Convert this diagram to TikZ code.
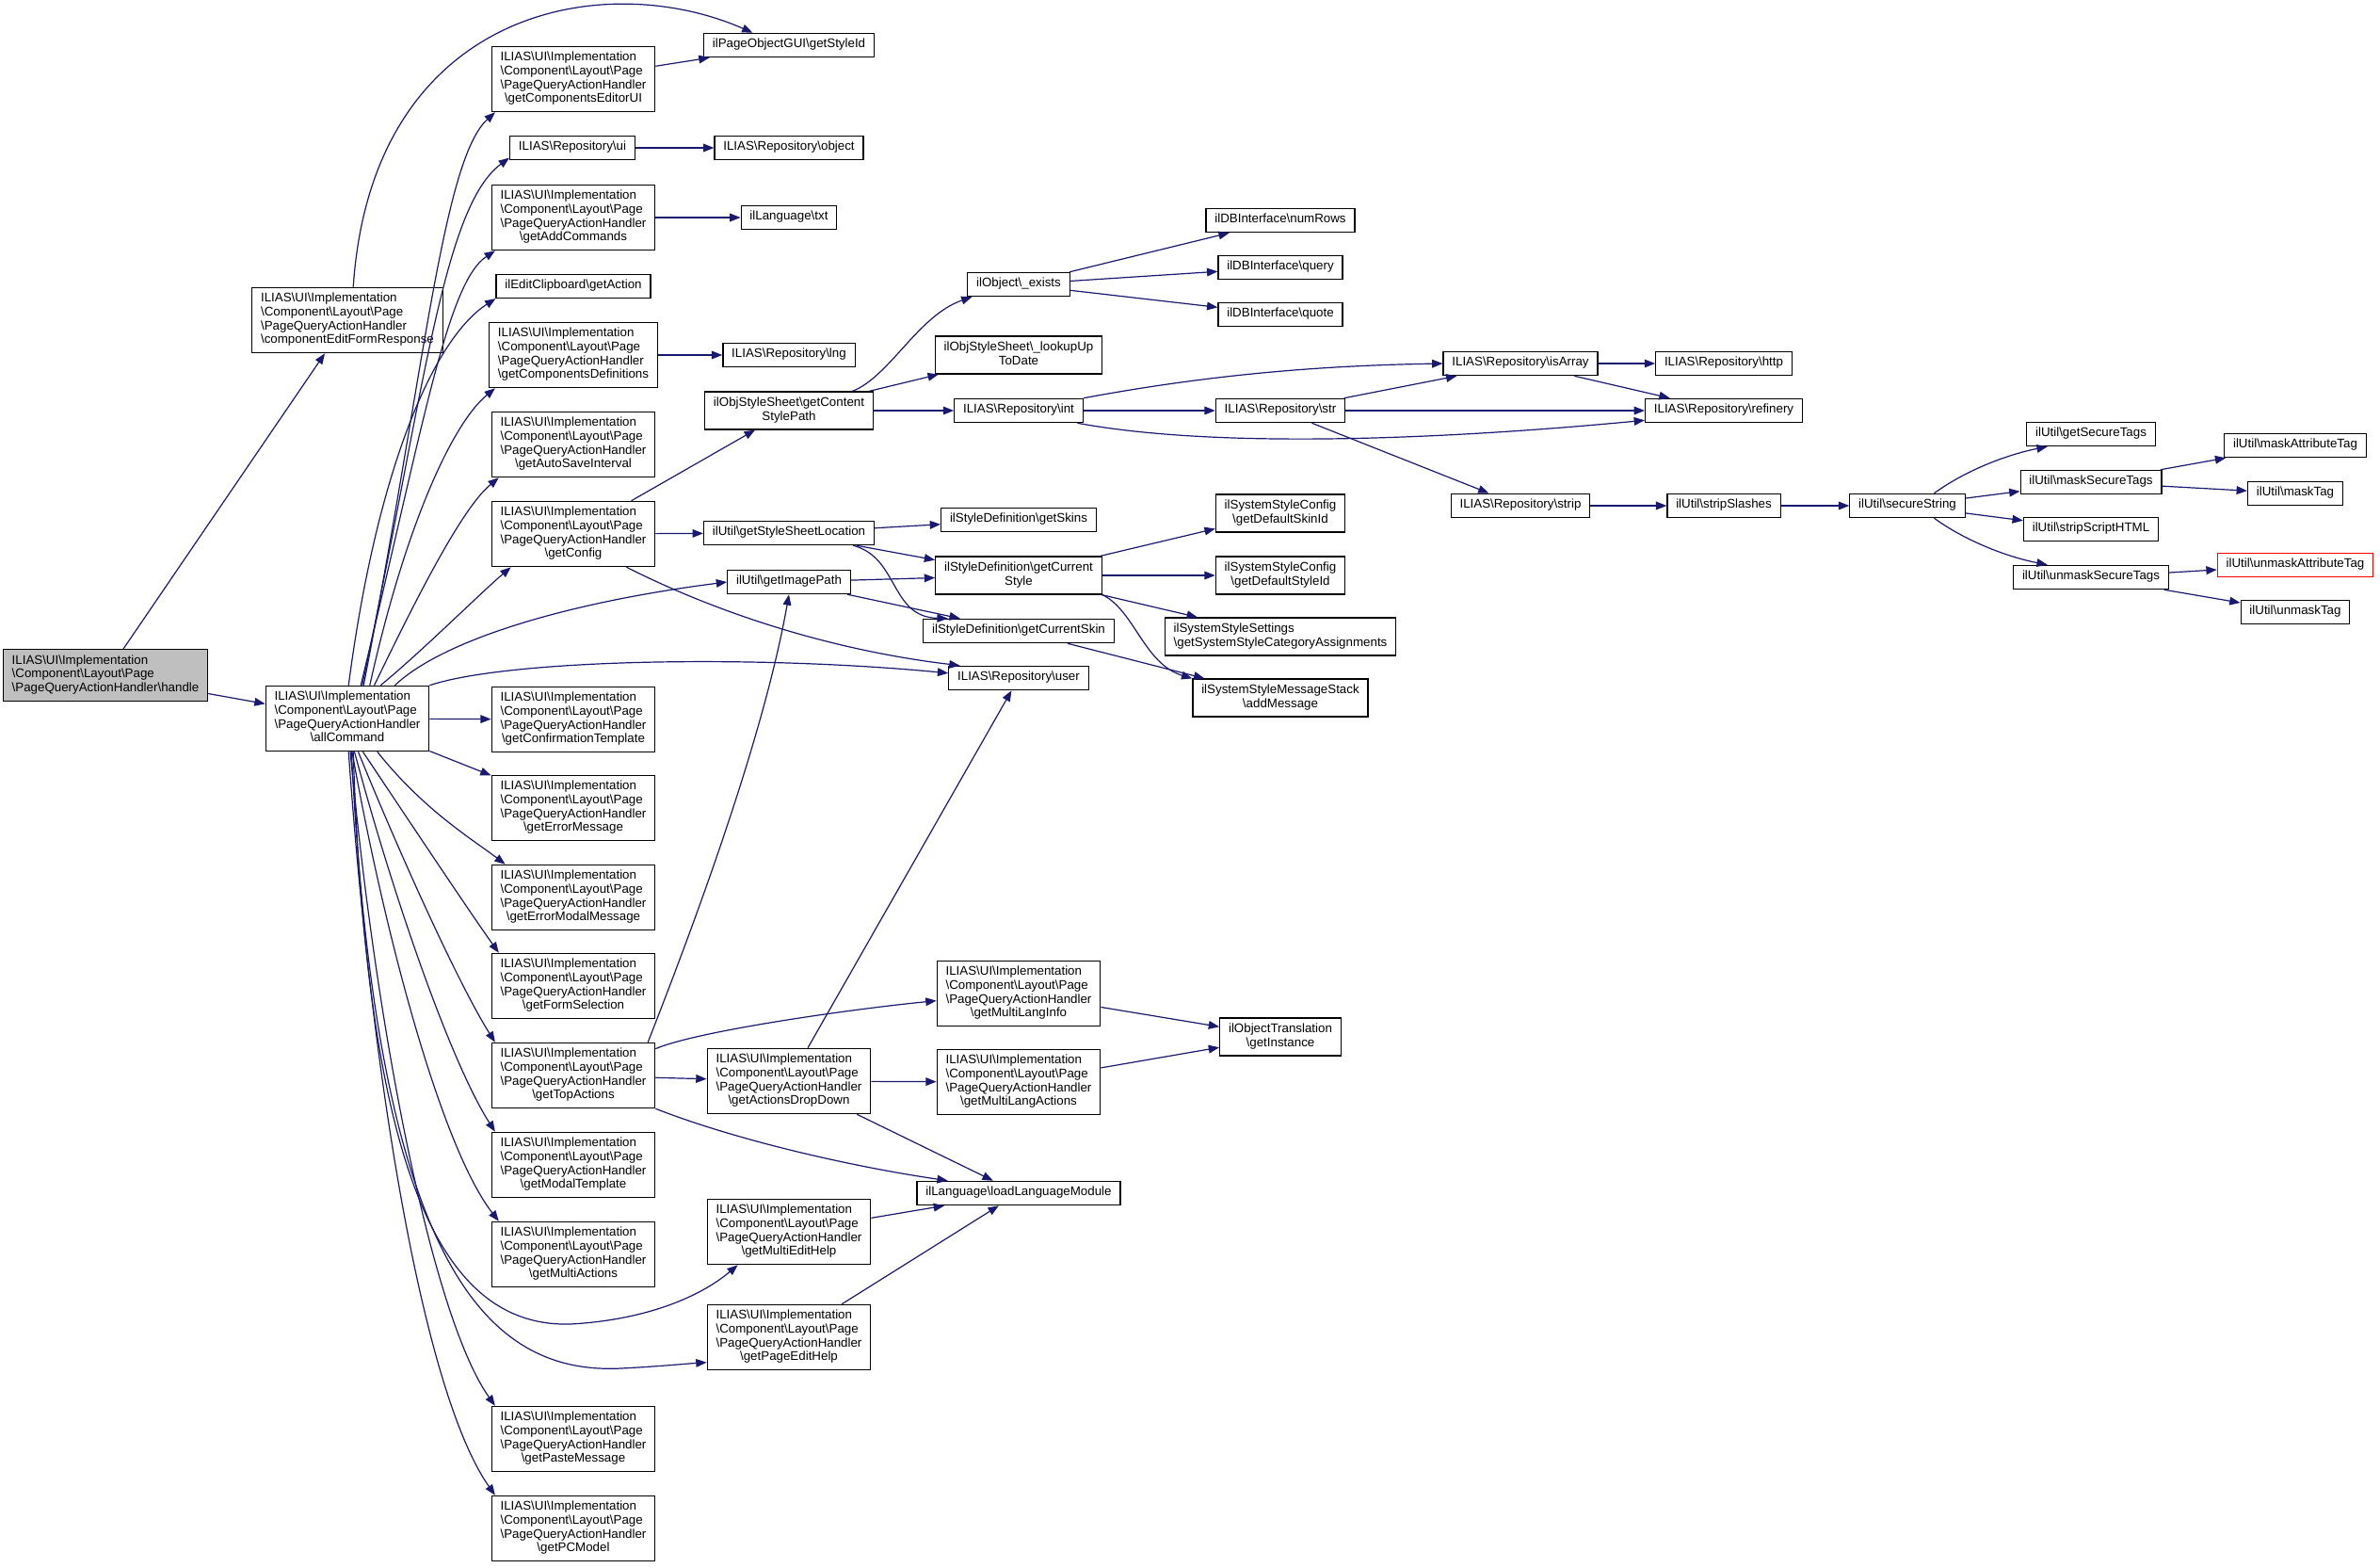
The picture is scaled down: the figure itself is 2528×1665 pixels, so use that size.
\documentclass[tikz,border=0pt]{standalone}
\usepackage{fontspec}
\setmainfont{Liberation Sans}
\usetikzlibrary{arrows.meta}
\definecolor{edgeblue}{HTML}{191970}
\definecolor{rootgray}{HTML}{BFBFBF}
\newcommand{\bsl}{\textbackslash}
\newcommand{\qah}[1]{\begin{tabular}{@{}l@{}}ILIAS\bsl UI\bsl Implementation\\\bsl Component\bsl Layout\bsl Page\\\bsl PageQueryActionHandler\\\multicolumn{1}{@{}c@{}}{\bsl #1}\end{tabular}}
\newcommand{\twol}[2]{\begin{tabular}{@{}l@{}}#1\\\multicolumn{1}{@{}c@{}}{#2}\end{tabular}}

\begin{document}
\begin{tikzpicture}[x=0.75pt, y=-0.75pt,
    fn/.style={draw, line width=0.9pt, fill=white, inner xsep=7pt, inner ysep=4pt, font=\fontsize{10}{11}\selectfont},
    one/.style={fn, text height=7.7pt, text depth=3.3pt},
    call/.style={draw=edgeblue, line width=0.9pt, -{Triangle[length=8.5pt,width=6.5pt]}}]
      \useasboundingbox[fill=white] (0,0) rectangle (2528,1665);
      % first two columns
      \node[fn, name=handle, fill=rootgray] at (112,717) {\begin{tabular}{@{}l@{}}ILIAS\bsl UI\bsl Implementation\\\bsl Component\bsl Layout\bsl Page\\\bsl PageQueryActionHandler\bsl handle\end{tabular}};
      \node[fn, name=cefr] at (369,340) {\qah{componentEditFormResponse}};
      \node[fn, name=allcmd] at (369,763) {\qah{allCommand}};
      % callees of allCommand
      \node[fn, name=ceui] at (609,84) {\qah{getComponentsEditorUI}};
      \node[one, name=rui] at (608,157) {ILIAS\bsl Repository\bsl ui};
      \node[fn, name=addcmd] at (609,231) {\qah{getAddCommands}};
      \node[one, name=getact] at (609,304) {ilEditClipboard\bsl getAction};
      \node[fn, name=compdef] at (609,377) {\qah{getComponentsDefinitions}};
      \node[fn, name=autosave] at (609,472) {\qah{getAutoSaveInterval}};
      \node[fn, name=config] at (609,567) {\qah{getConfig}};
      \node[fn, name=confirm] at (609,764) {\qah{getConfirmationTemplate}};
      \node[fn, name=errmsg] at (609,858) {\qah{getErrorMessage}};
      \node[fn, name=errmodal] at (609,953) {\qah{getErrorModalMessage}};
      \node[fn, name=formsel] at (609,1047) {\qah{getFormSelection}};
      \node[fn, name=topact] at (609,1142) {\qah{getTopActions}};
      \node[fn, name=modal] at (609,1237) {\qah{getModalTemplate}};
      \node[fn, name=multiact] at (609,1332) {\qah{getMultiActions}};
      \node[fn, name=paste] at (609,1528) {\qah{getPasteMessage}};
      \node[fn, name=pcmodel] at (609,1623) {\qah{getPCModel}};
      % third column
      \node[one, name=styleid] at (838,48) {ilPageObjectGUI\bsl getStyleId};
      \node[one, name=robj] at (838,157) {ILIAS\bsl Repository\bsl object};
      \node[one, name=txt] at (838,231) {ilLanguage\bsl txt};
      \node[one, name=rlng] at (838,377) {ILIAS\bsl Repository\bsl lng};
      \node[fn, name=csp] at (838,436) {\twol{ilObjStyleSheet\bsl getContent}{StylePath}};
      \node[one, name=ssloc] at (838,566) {ilUtil\bsl getStyleSheetLocation};
      \node[one, name=imgpath] at (838,618) {ilUtil\bsl getImagePath};
      \node[fn, name=dropdown] at (838,1148) {\qah{getActionsDropDown}};
      \node[fn, name=medit] at (838,1308) {\qah{getMultiEditHelp}};
      \node[fn, name=pedit] at (838,1420) {\qah{getPageEditHelp}};
      % fourth column
      \node[one, name=exists] at (1082,302) {ilObject\bsl\_exists};
      \node[fn, name=lookup] at (1082,377) {\twol{ilObjStyleSheet\bsl\_lookupUp}{ToDate}};
      \node[one, name=rint] at (1082,436) {ILIAS\bsl Repository\bsl int};
      \node[one, name=skins] at (1082,552) {ilStyleDefinition\bsl getSkins};
      \node[fn, name=curstyle] at (1082,611) {\twol{ilStyleDefinition\bsl getCurrent}{Style}};
      \node[one, name=curskin] at (1082,670) {ilStyleDefinition\bsl getCurrentSkin};
      \node[one, name=ruser] at (1082,720) {ILIAS\bsl Repository\bsl user};
      \node[fn, name=mlinfo] at (1082,1055) {\qah{getMultiLangInfo}};
      \node[fn, name=mlact] at (1082,1149) {\qah{getMultiLangActions}};
      \node[one, name=loadlang] at (1082,1267) {ilLanguage\bsl loadLanguageModule};
      % fifth column
      \node[one, name=numrows] at (1360,234) {ilDBInterface\bsl numRows};
      \node[one, name=query] at (1360,284) {ilDBInterface\bsl query};
      \node[one, name=quote] at (1360,334) {ilDBInterface\bsl quote};
      \node[one, name=rstr] at (1360,436) {ILIAS\bsl Repository\bsl str};
      \node[fn, name=defskin] at (1360,545) {\twol{ilSystemStyleConfig}{\bsl getDefaultSkinId}};
      \node[fn, name=defstyle] at (1360,611) {\twol{ilSystemStyleConfig}{\bsl getDefaultStyleId}};
      \node[fn, name=catassign] at (1360,676) {\twol{ilSystemStyleSettings}{\bsl getSystemStyleCategoryAssignments}};
      \node[fn, name=msgstack] at (1360,741) {\twol{ilSystemStyleMessageStack}{\bsl addMessage}};
      \node[fn, name=getinst] at (1360,1101) {\twol{ilObjectTranslation}{\bsl getInstance}};
      % right part
      \node[one, name=isarray] at (1615,386) {ILIAS\bsl Repository\bsl isArray};
      \node[one, name=strip] at (1615,537) {ILIAS\bsl Repository\bsl strip};
      \node[one, name=http] at (1831,386) {ILIAS\bsl Repository\bsl http};
      \node[one, name=refinery] at (1831,436) {ILIAS\bsl Repository\bsl refinery};
      \node[one, name=stripsl] at (1831,537) {ilUtil\bsl stripSlashes};
      \node[one, name=secstr] at (2026,537) {ilUtil\bsl secureString};
      \node[one, name=getsec] at (2221,461) {ilUtil\bsl getSecureTags};
      \node[one, name=masksec] at (2221,512) {ilUtil\bsl maskSecureTags};
      \node[one, name=stripscript] at (2221,562) {ilUtil\bsl stripScriptHTML};
      \node[one, name=unmasksec] at (2221,613) {ilUtil\bsl unmaskSecureTags};
      \node[one, name=maskattr] at (2438,473) {ilUtil\bsl maskAttributeTag};
      \node[one, name=masktag] at (2438,524) {ilUtil\bsl maskTag};
      \node[one, name=unmaskattr, draw=red] at (2438,600) {ilUtil\bsl unmaskAttributeTag};
      \node[one, name=unmasktag] at (2438,650) {ilUtil\bsl unmaskTag};

      % calls from handle and componentEditFormResponse
      \draw[call] (handle) -- (cefr);
      \draw[call] (handle) -- (allcmd);
      \draw[call] (cefr.80) .. controls (395,10) and (640,-35) .. (styleid.161);
      % calls from allCommand, upwards
      \draw[call] (allcmd.64) .. controls (450,400) and (470,170) .. (ceui.203);
      \draw[call] (allcmd.66) .. controls (450,420) and (470,220) .. (rui.189);
      \draw[call] (allcmd.68) .. controls (450,450) and (475,300) .. (addcmd.203);
      \draw[call] (allcmd.88) .. controls (400,500) and (460,360) .. (getact.189);
      \draw[call] (allcmd.56) .. controls (430,560) and (480,450) .. (compdef.203);
      \draw[call] (allcmd.51) .. controls (440,640) and (490,540) .. (autosave.204);
      \draw[call] (allcmd.45) .. controls (450,690) and (510,630) .. (config.208);
      \draw[call] (allcmd.35) .. controls (470,680) and (600,640) .. (imgpath.west);
      \draw[call] (allcmd.north east) .. controls (540,700) and (800,695) .. (ruser.176);
      \draw[call] (allcmd) -- (confirm);
      \draw[call] (allcmd) -- (errmsg);
      % calls from allCommand, downwards
      \draw[call] (allcmd.312) .. controls (450,860) and (500,890) .. (errmodal.154);
      \draw[call] (allcmd.295) .. controls (440,880) and (500,970) .. (formsel.156);
      \draw[call] (allcmd.288) .. controls (430,920) and (490,1050) .. (topact.157);
      \draw[call] (allcmd.282) .. controls (420,960) and (480,1130) .. (modal.157);
      \draw[call] (allcmd.278) .. controls (410,1000) and (470,1220) .. (multiact.156);
      \draw[call] (allcmd.280) .. controls (390,1250) and (470,1410) .. (606,1406)
                  .. controls (680,1402) and (740,1380) .. (medit.213);
      \draw[call] (allcmd.277) .. controls (400,1350) and (520,1460) .. (660,1453)
                  .. controls (700,1451) and (730,1448) .. (pedit.197);
      \draw[call] (allcmd.275) .. controls (400,1100) and (460,1400) .. (paste.157);
      \draw[call] (allcmd.272) .. controls (395,1150) and (450,1480) .. (pcmodel.157);

      % second level
      \draw[call] (ceui) -- (styleid);
      \draw[call] (rui) -- (robj);
      \draw[call] (addcmd) -- (txt);
      \draw[call] (compdef) -- (rlng);
      \draw[call] (config) -- (csp);
      \draw[call] (config) -- (ssloc);
      \draw[call] (config.328) .. controls (760,650) and (880,690) .. (ruser.168);
      \draw[call] (topact) -- (dropdown);
      \draw[call] (topact.18) .. controls (740,1095) and (900,1072) .. (mlinfo.185);
      \draw[call] (topact.south east) .. controls (780,1210) and (900,1238) .. (loadlang.170);
      \draw[call] (topact.24) .. controls (730,1000) and (810,790) .. (imgpath.south);
      \draw[call] (dropdown) -- (ruser);
      \draw[call] (dropdown) -- (mlact);
      \draw[call] (dropdown) -- (loadlang);
      \draw[call] (medit) -- (loadlang);
      \draw[call] (pedit) -- (loadlang);
      \draw[call] (mlinfo) -- (getinst);
      \draw[call] (mlact) -- (getinst);

      % style sheet calls
      \draw[call] (csp.17) .. controls (945,400) and (975,335) .. (exists.195);
      \draw[call] (csp) -- (lookup);
      \draw[call] (csp) -- (rint);
      \draw[call] (exists) -- (numrows);
      \draw[call] (exists) -- (query);
      \draw[call] (exists) -- (quote);
      \draw[call] (ssloc) -- (skins);
      \draw[call] (ssloc) -- (curstyle);
      \draw[call] (ssloc.349) .. controls (955,592) and (945,655) .. (curskin.170);
      \draw[call] (imgpath) -- (curstyle);
      \draw[call] (imgpath) -- (curskin);
      \draw[call] (curstyle) -- (defskin);
      \draw[call] (curstyle) -- (defstyle);
      \draw[call] (curstyle) -- (catassign);
      \draw[call] (curstyle.347) .. controls (1205,648) and (1215,705) .. (msgstack.north west);
      \draw[call] (curskin) -- (msgstack);

      % repository and ilUtil calls
      \draw[call] (rint.north east) .. controls (1300,395) and (1420,388) .. (isarray.west);
      \draw[call] (rint) -- (rstr);
      \draw[call] (rint.348) .. controls (1300,478) and (1550,465) .. (refinery.187);
      \draw[call] (rstr) -- (isarray);
      \draw[call] (rstr) -- (refinery);
      \draw[call] (rstr) -- (strip);
      \draw[call] (isarray) -- (http);
      \draw[call] (isarray) -- (refinery);
      \draw[call] (strip) -- (stripsl);
      \draw[call] (stripsl) -- (secstr);
      \draw[call] (secstr.25) .. controls (2090,498) and (2135,482) .. (getsec.196);
      \draw[call] (secstr) -- (masksec);
      \draw[call] (secstr) -- (stripscript);
      \draw[call] (secstr.335) .. controls (2090,576) and (2135,592) .. (unmasksec.164);
      \draw[call] (masksec) -- (maskattr);
      \draw[call] (masksec) -- (masktag);
      \draw[call] (unmasksec) -- (unmaskattr);
      \draw[call] (unmasksec) -- (unmasktag);
    \end{tikzpicture}
\end{document}
